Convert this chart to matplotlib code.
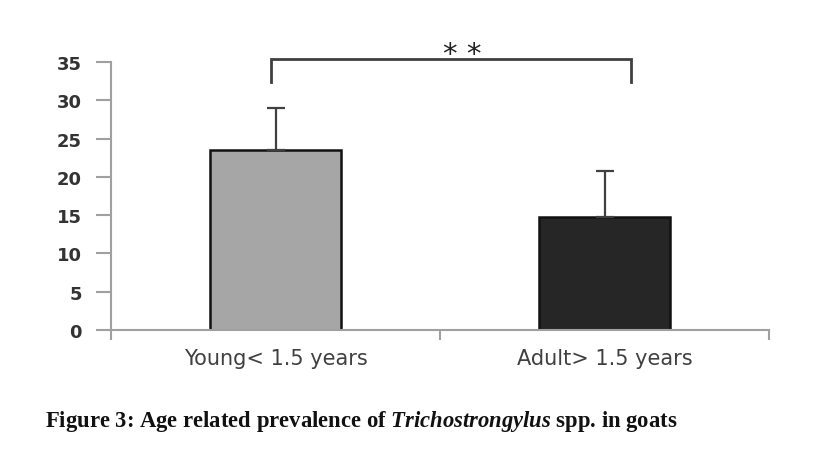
import matplotlib
matplotlib.use("Agg")
import matplotlib.pyplot as plt
import numpy as np

plt.rcParams["mathtext.fontset"] = "custom"
plt.rcParams["mathtext.it"] = "Liberation Serif:italic:bold"
plt.rcParams["mathtext.rm"] = "Liberation Serif:bold"

categories = ["Young< 1.5 years", "Adult> 1.5 years"]
values = [23.5, 14.8]
errors_up = [5.5, 6.0]
bar_colors = ["#a6a6a6", "#262626"]
yticks = [0, 5, 10, 15, 20, 25, 30, 35]

fig = plt.figure(figsize=(8.28, 4.6), dpi=100)
ax = fig.add_axes([111/828, 1-331/460, (769-111)/828, (331-63)/460])

x = np.arange(len(categories))
ax.bar(x, values, width=0.4, color=bar_colors, edgecolor="#111111", linewidth=1.8, zorder=2)
ax.errorbar(x, values, yerr=[[0]*len(values), errors_up], fmt="none",
            ecolor="#404040", elinewidth=1.6, capsize=6.5, capthick=1.6, zorder=3)

ax.set_xlim(-0.5, 1.5)
ax.set_ylim(0, 35)
ax.set_yticks(yticks)
ax.set_yticklabels([str(t) for t in yticks], fontsize=13, fontweight="bold", color="#333333",
                   family="DejaVu Sans")
ax.set_xticks(x)
ax.set_xticklabels(categories, fontsize=15, color="#404040", family="DejaVu Sans")
ax.set_xticks([-0.5, 0.5, 1.5], minor=True)
ax.tick_params(axis="x", which="major", length=0, pad=13)
ax.tick_params(axis="x", which="minor", length=7, color="#a0a0a0", width=1.5)
ax.tick_params(axis="y", length=11, color="#a0a0a0", width=1.5, pad=10)
for s in ["top", "right"]:
    ax.spines[s].set_visible(False)
for s in ["left", "bottom"]:
    ax.spines[s].set_color("#a0a0a0")
    ax.spines[s].set_linewidth(1.5)

# significance bracket
bx0, bx1 = -0.015, 1.08
ytop, ylow = 35.4, 32.4
ax.plot([bx0, bx0, bx1, bx1], [ylow, ytop, ytop, ylow], color="#404040", lw=2,
        clip_on=False, solid_joinstyle="miter")
ax.text(0.5 + 0.067, ytop - 1.2, "* *", ha="center", va="bottom",
        fontsize=21, color="#222222", family="DejaVu Sans")

fig.text(45/828, 1-421/460, "Figure 3: Age related prevalence of $\\it{Trichostrongylus}$ spp. in goats",
         ha="left", va="center", fontsize=16.3, fontweight="bold", family="Liberation Serif",
         color="#111111")

fig.savefig("out.png", dpi=100, facecolor="white")
